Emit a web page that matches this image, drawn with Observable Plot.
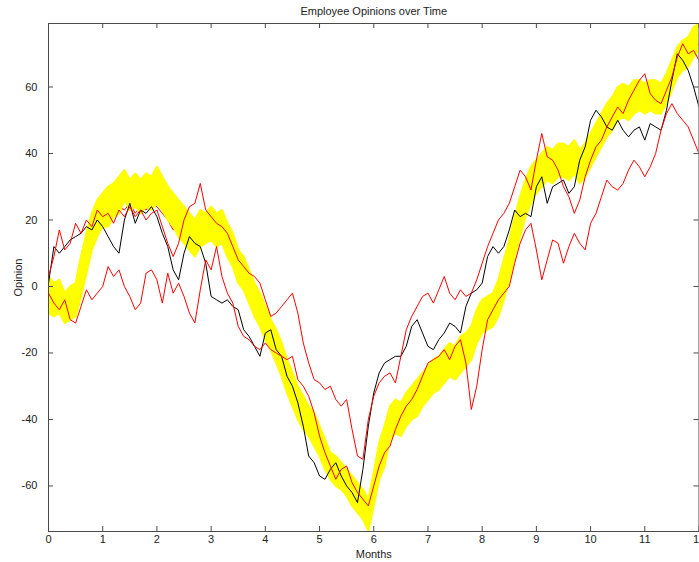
<!DOCTYPE html>
<html>
<head>
<meta charset="utf-8">
<script src="https://cdn.jsdelivr.net/npm/d3@7"></script>
<script src="https://cdn.jsdelivr.net/npm/@observablehq/plot@0.6"></script>
<style>
  body { margin: 0; background: #fff; }
  svg { display: block; }
</style>
</head>
<body>
<div id="chart"></div>
<script>
// Time axis: months 0..12 sampled every 0.1 month
const months = d3.range(121).map(i => i / 10);

const xTickValues = [0,1,2,3,4,5,6,7,8,9,10,11,12];
const yTickValues = [-60,-40,-20,0,20,40,60];

const titleText = "Employee Opinions over Time";
const xLabel = "Months";
const yLabel = "Opinion";

// Yellow band (three noisy traces)
const yellowUpper = [3,1,2,-2,0,1,9,16,22,26,28,30,31,33,35,32,34,32,34,33,36,33,30,28,26,24,22,20,23,22,24,22,23,19,16,11,9,5,1,-2,-6,-10,-13,-17,-22,-26,-30,-33,-36,-38,-42,-46,-50,-51,-53,-55,-57,-59,-61,-64,-56,-47,-42,-36,-34,-35,-32,-30,-28,-26,-24,-22,-21,-19,-17,-18,-15,-14,-12,-7,-4,-3,-2,2,8,14,21,27,32,36,38,40,42,41,43,43,42,44,41,43,46,49,52,55,57,60,61,60,62,62,61,62,62,61,64,68,72,74,75,78,79];
const yellowMid = [-2,-4,-3,-7,-6,-4,3,10,17,20,24,23,26,28,32,27,29,27,29,28,31,28,25,23,20,19,16,15,17,18,19,17,18,14,11,6,4,0,-4,-7,-11,-15,-18,-22,-27,-31,-35,-38,-40,-43,-46,-51,-54,-56,-57,-59,-62,-63,-66,-70,-61,-53,-48,-41,-39,-40,-37,-35,-34,-31,-29,-27,-26,-24,-22,-23,-21,-19,-17,-12,-9,-8,-7,-4,2,8,15,21,27,31,33,35,37,36,38,38,37,39,36,38,41,44,47,50,52,55,56,55,57,58,57,58,57,57,60,64,68,70,71,74,76];
const yellowLower = [-8,-9,-8,-11,-10,-9,-3,4,11,15,18,18,21,22,26,23,24,22,24,23,25,23,20,18,15,13,11,9,12,13,14,12,13,9,6,1,-1,-5,-9,-12,-16,-19,-23,-27,-32,-36,-40,-43,-45,-48,-51,-55,-58,-60,-61,-63,-66,-68,-70,-73.5,-66,-58,-54,-46,-44,-45,-42,-40,-39,-36,-34,-32,-31,-29,-27,-28,-26,-24,-22,-17,-14,-13,-12,-9,-4,2,9,15,21,25,28,30,32,31,33,33,32,34,31,33,36,39,42,45,47,50,51,50,52,53,52,53,52,52,55,59,63,65,66,69,71];

// Black trace
const blackSeries = [1,12,10,12,14,15,16,18,17,20,18,15,12,10,20,25,19,23,22,24,21,16,12,5,2,10,15,13,12,7,-3,-4,-5,-4,-6,-7,-13,-15,-18,-21,-14,-13,-19,-21,-27,-30,-35,-42,-51,-53,-57,-58,-55,-53,-57,-60,-62,-65,-55,-42,-32,-26,-23,-22,-21,-21,-18,-12,-10,-14,-18,-19,-16,-14,-11,-12,-14,-6,-2,-1,1,9,12,10,12,17,23,21,22,21,30,33,25,30,31,32,28,30,38,42,50,53,51,48,47,50,47,45,47,48,44,49,48,47,53,62,70,68,65,60,54];

// Red traces
const redUpper = [3,9,17,11,13,19,16,20,18,23,21,22,19,23,21,24,21,23,20,22,23,18,13,9,13,20,24,25,31,23,21,19,18,16,12,8,6,4,3,1,-4,-9,-8,-6,-4,-2,-8,-17,-23,-28,-29,-31,-30,-34,-36,-34,-43,-51,-52,-40,-33,-29,-27,-26,-29,-21,-13,-9,-6,-3,-2,-5,-1,3,-2,-4,-1,-3,-2,2,7,12,16,20,22,25,30,35,33,29,38,46,39,38,35,30,27,22,26,33,38,42,44,48,51,54,52,56,59,62,64,58,56,55,59,63,69,73,70,71,68];
const redLower = [-2,-5,-7,-4,-10,-11,-6,-1,-4,-2,0,6,3,5,0,-3,-7,-5,4,5,2,-5,4,-2,1,-3,-8,-11,-1,8,5,12,3,-2,-5,-12,-15,-16,-18,-19,-17,-19,-20,-21,-22,-21,-28,-30,-33,-38,-45,-50,-54,-58,-55,-54,-59,-62,-64,-66,-60,-54,-50,-48,-43,-39,-36,-34,-31,-27,-23,-22,-21,-19,-22,-18,-16,-23,-37,-30,-19,-10,-7,-4,-2,0,7,13,17,19,11,2,8,14,13,7,12,16,13,11,19,22,27,32,30,29,31,35,38,36,33,36,40,47,52,55,52,50,48,44,40];
const redBand = [-4,-6,-3,-8,-6,-9,-2,6,12,17,20,22,21,24,23,25,22,24,23,25,24,22,20,17,18,15,13,10,12,15,17,16,14,12,8,4,1,-3,-6,-10,-13,-17,-21,-25,-28,-33,-37,-39,-43,-45,-49,-53,-57,-56,-60,-61,-63,-65,-68,-67,-62,-55,-50,-44,-42,-41,-40,-37,-36,-33,-31,-30,-28,-26,-25,-24,-23,-21,-19,-15,-12,-10,-9,-6,-1,4,11,17,23,27,30,33,35,38,40,37,40,42,39,41,44,43,46,49,52,55,53,55,57,54,56,57,55,58,62,66,64,68,72,70,73];

const rows = vals => vals.map((v, i) => ({m: months[i], v}));
const bandRows = yellowLower.map((lo, i) => ({m: months[i], lo, hi: yellowUpper[i]}));

const W = 699, H = 562;
const mL = 48, mR = 0.5, mT = 23, mB = 31;
const plotW = W - mL - mR, plotH = H - mT - mB;
const tickLen = 5;
const axisColor = "#4a4a4a";
const font = "'Liberation Sans', Arial, Helvetica, sans-serif";
const yellow = "#ffff00";
const red = "#ff0000";

const lineOpts = (stroke, strokeWidth) => ({x: "m", y: "v", stroke, strokeWidth, clip: true});

const chart = Plot.plot({
  width: W,
  height: H,
  marginLeft: mL,
  marginRight: mR,
  marginTop: mT,
  marginBottom: mB,
  style: {fontFamily: font, fontSize: "11px", background: "#fff", color: "#222", overflow: "visible"},
  x: {domain: [0, 12]},
  y: {domain: [-73.7, 79.1]},
  marks: [
    Plot.line(rows(redBand), lineOpts(red, 1)),
    Plot.areaY(bandRows, {x: "m", y1: "lo", y2: "hi", fill: yellow, clip: true}),
    Plot.line(rows(yellowLower), lineOpts(yellow, 2)),
    Plot.line(rows(yellowUpper), lineOpts(yellow, 2)),
    Plot.line(rows(yellowMid), lineOpts(yellow, 2)),
    Plot.line(rows(blackSeries), lineOpts("#000000", 1)),
    Plot.line(rows(redUpper), lineOpts(red, 1)),
    Plot.line(rows(redLower), lineOpts(red, 1)),
    Plot.frame({stroke: axisColor, strokeWidth: 1}),
    Plot.ruleX(xTickValues, {x: d => d, insetTop: plotH - tickLen, stroke: axisColor}),
    Plot.ruleX(xTickValues, {x: d => d, insetBottom: plotH - tickLen, stroke: axisColor}),
    Plot.ruleY(yTickValues, {y: d => d, insetRight: plotW - tickLen, stroke: axisColor}),
    Plot.ruleY(yTickValues, {y: d => d, insetLeft: plotW - tickLen, stroke: axisColor}),
    Plot.axisX({ticks: xTickValues, tickSize: 0, tickPadding: 4, label: null, tickFormat: d => String(d)}),
    Plot.axisY({ticks: yTickValues, tickSize: 0, tickPadding: 11, label: null, tickFormat: d => String(d)}),
    Plot.text([xLabel], {text: d => d, frameAnchor: "bottom", dy: 23, lineAnchor: "middle", fontSize: 11}),
    Plot.text([yLabel], {text: d => d, frameAnchor: "left", dx: -30, rotate: -90, lineAnchor: "middle", textAnchor: "middle", fontSize: 11}),
    Plot.text([titleText], {text: d => d, frameAnchor: "top", dy: -12, lineAnchor: "middle", fontSize: 11})
  ]
});

document.getElementById("chart").appendChild(chart);
</script>
</body>
</html>
